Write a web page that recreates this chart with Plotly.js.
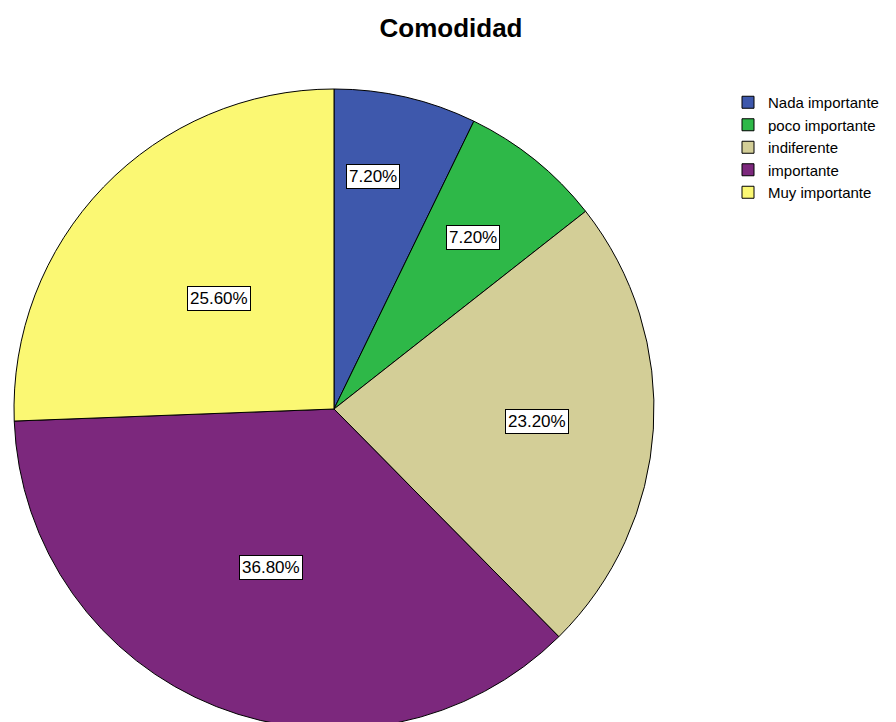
<!DOCTYPE html>
<html>
<head>
<meta charset="utf-8">
<script src="https://cdn.plot.ly/plotly-3.0.1.min.js"></script>
<style>
html, body { margin: 0; padding: 0; overflow: hidden; background: #fff; }
#chart { width: 896px; height: 760px; }
</style>
</head>
<body>
<div id="chart"></div>
<script>
// Data
const categories = ["Nada importante", "poco importante", "indiferente", "importante", "Muy importante"];
const percents = [7.2, 7.2, 23.2, 36.8, 25.6];
const colors = ["#3E58AC", "#2EB848", "#D3CE97", "#7C287D", "#FBF873"];

// Style: label placement (fraction of radius, angular nudge in degrees)
const labelRadiusFrac = [0.735, 0.69, 0.635, 0.533, 0.50];
const labelAngleNudge = [-3.5, 0, 0, 0, 0];

const W = 896, H = 760;
const dom = { x: [14 / W, 654 / W], y: [(H - 729) / H, (H - 89) / H] };

// Compute label positions from data
const total = percents.reduce((a, b) => a + b, 0);
const cx = (dom.x[0] + dom.x[1]) / 2 * W;
const cyPaper = (dom.y[0] + dom.y[1]) / 2 * H; // from bottom
const R = (dom.x[1] - dom.x[0]) * W / 2;
let cum = 0;
const annotations = percents.map((v, i) => {
  const mid = (cum + v / 2) / total * 360 + labelAngleNudge[i];
  cum += v;
  const a = mid * Math.PI / 180;
  const r = R * labelRadiusFrac[i];
  const px = cx + r * Math.sin(a);
  const py = cyPaper + r * Math.cos(a);
  return {
    x: px / W, y: py / H, xref: "paper", yref: "paper",
    text: (v / total * 100).toFixed(2) + "%",
    showarrow: false,
    font: { family: "Liberation Sans, Arial, sans-serif", size: 17, color: "#000" },
    bgcolor: "#ffffff", bordercolor: "#000000", borderwidth: 1, borderpad: 2,
    xanchor: "center", yanchor: "middle"
  };
});

const trace = {
  type: "pie",
  labels: categories,
  values: percents,
  sort: false,
  direction: "clockwise",
  rotation: 0,
  marker: { colors: colors, line: { color: "#000000", width: 1 } },
  textinfo: "none",
  hoverinfo: "none",
  domain: dom
};

const layout = {
  width: W, height: H,
  margin: { l: 0, r: 0, t: 0, b: 0 },
  paper_bgcolor: "#ffffff",
  title: {
    text: "<b>Comodidad</b>",
    font: { family: "Liberation Sans, Arial, sans-serif", size: 26, color: "#000" },
    x: 451 / W, xanchor: "center", xref: "paper",
    y: 1 - 28 / H, yanchor: "middle", yref: "container"
  },
  showlegend: true,
  legend: {
    x: 728 / W, xanchor: "left",
    y: 1 - 86 / H, yanchor: "top",
    font: { family: "Liberation Sans, Arial, sans-serif", size: 15, color: "#000" },
    bgcolor: "rgba(0,0,0,0)", borderwidth: 0,
    traceorder: "normal", tracegroupgap: 0
  },
  annotations: annotations
};

Plotly.newPlot("chart", [trace], layout, { displayModeBar: false, staticPlot: true });
</script>
</body>
</html>
